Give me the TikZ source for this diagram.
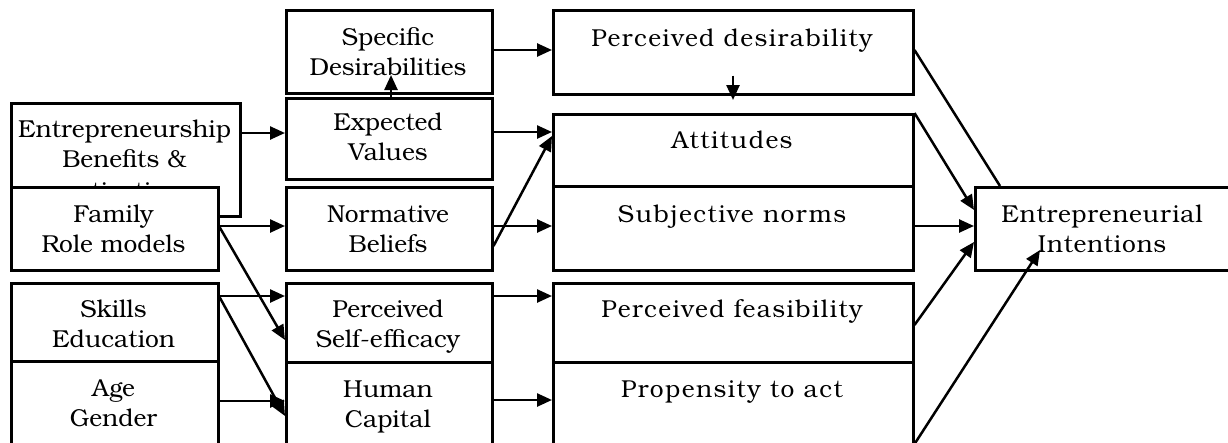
\documentclass[tikz,border=0pt]{standalone}
\usepackage{fontspec}
\setmainfont{TeX Gyre Bonum}
\usetikzlibrary{arrows.meta}
\tikzset{
  bx/.style={draw, line width=2.5pt, fill=white, anchor=north west, inner sep=0pt},
  txt/.style={font=\fontsize{24.5}{30}\selectfont, align=center, inner sep=0pt, anchor=base},
  rtxt/.style={txt, font=\fontsize{24.5}{30}\selectfont\addfontfeatures{LetterSpace=6}},
  itxt/.style={txt, font=\fontsize{24.5}{30}\selectfont\addfontfeatures{LetterSpace=3}},
  arr/.style={-{Triangle[length=15pt,width=13pt]}, line width=2.5pt},
  ln/.style={line width=2.5pt}
}
\begin{document}
\begin{tikzpicture}[x=1pt,y=-1pt]
\useasboundingbox (0,0) rectangle (1228,442);
% left column
\node[bx, minimum width=229pt, minimum height=113pt] (ent) at (10,102) {};
\node[txt] at (124.5,199.5) {Entrepreneurship\\Benefits \&\\[2.5pt]motivations};
\node[bx, minimum width=207pt, minimum height=83pt] (fam) at (10,186) {};
\node[txt] at (113.5,252) {Family\\Role models};
\node[bx, minimum width=207pt, minimum height=78pt] (ski) at (10,282) {};
\node[txt] at (113.5,347) {Skills\\Education};
\node[bx, minimum width=207pt, minimum height=84pt] (age) at (10,360) {};
\node[txt] at (113.5,426) {Age\\Gender};
% middle column
\node[bx, minimum width=206pt, minimum height=83pt] (spe) at (285,9) {};
\node[txt] at (388,75) {Specific\\Desirabilities};
\node[bx, minimum width=206pt, minimum height=81pt] (exp) at (285,97) {};
\node[txt] at (388,160) {Expected\\Values};
\node[bx, minimum width=206pt, minimum height=83pt] (nor) at (285,186) {};
\node[txt] at (388,252) {Normative\\Beliefs};
\node[bx, minimum width=206pt, minimum height=79pt] (pse) at (285,282) {};
\node[txt] at (388,347) {Perceived\\Self-efficacy};
\node[bx, minimum width=206pt, minimum height=83pt] (hum) at (285,361) {};
\node[txt] at (388,427) {Human\\Capital};
% right column
\node[bx, minimum width=360pt, minimum height=84pt] (pdes) at (552,9) {};
\node[rtxt] at (732,46) {Perceived desirability};
\node[bx, minimum width=360pt, minimum height=72pt] (att) at (552,113) {};
\node[rtxt] at (732,148) {Attitudes};
\node[bx, minimum width=360pt, minimum height=84pt] (sub) at (552,185) {};
\node[rtxt] at (732,222) {Subjective norms};
\node[bx, minimum width=360pt, minimum height=79pt] (pfe) at (552,282) {};
\node[rtxt] at (732,317) {Perceived feasibility};
\node[bx, minimum width=360pt, minimum height=83pt] (pro) at (552,361) {};
\node[rtxt] at (732,397) {Propensity to act};
% outcome
\node[bx, minimum width=258pt, minimum height=83pt] (ei) at (974,186) {};
\node[itxt] at (1102,252) {Entrepreneurial\\Intentions};
\coordinate (eiin) at (1040,250);
% connectors
\draw[arr] (spe.east |- 0,50) -- (pdes.west |- 0,50);
\draw[arr] (exp.north -| 391,0) -- (391,75);
\draw[arr] (ent.east |- 0,133) -- (exp.west |- 0,133);
\draw[arr] (exp.east |- 0,132) -- (att.west |- 0,132);
\draw[arr] (fam.east |- 0,226) -- (nor.west |- 0,226);
\draw[arr] (nor.east |- 0,226) -- (sub.west |- 0,226);
\draw[arr] (nor.east |- 0,246) -- (att.west |- 0,136);
\draw[arr] (fam.east |- 0,227) -- (pse.west |- 0,340);
\draw[arr] (ski.east |- 0,296) -- (pse.west |- 0,296);
\draw[arr] (ski.east |- 0,297) -- (hum.west |- 0,416);
\draw[arr] (age.east |- 0,401) -- (hum.west |- 0,401);
\draw[arr] (pse.east |- 0,296) -- (pfe.west |- 0,296);
\draw[arr] (hum.east |- 0,400) -- (pro.west |- 0,400);
\draw[arr] (pdes.south -| 733,0) ++(0,-20) -- (733,100);
\draw[ln] (pdes.east |- 0,50) -- (ei.north -| 1000,0);
\draw[arr] (att.north east) -- (ei.west |- 0,210);
\draw[arr] (sub.east |- 0,226) -- (ei.west |- 0,226);
\draw[arr] (pfe.east |- 0,325) -- (ei.west |- 0,242);
\draw[arr] (pro.east |- 0,444) -- (eiin);
\end{tikzpicture}
\end{document}
